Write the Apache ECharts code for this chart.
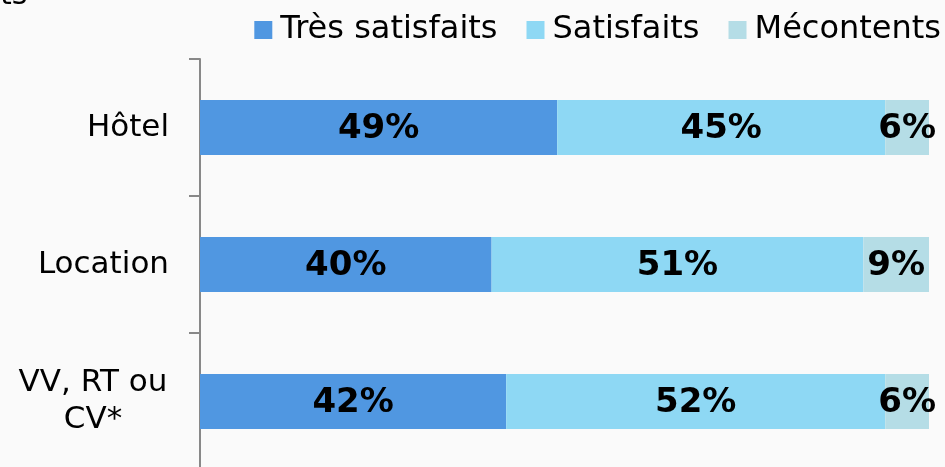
<!DOCTYPE html>
<html>
<head>
<meta charset="utf-8">
<script src="https://cdn.jsdelivr.net/npm/echarts@6/dist/echarts.min.js"></script>
<style>
  html, body { margin: 0; padding: 0; background: #fafafa; }
  #chart { width: 945px; height: 467px; }
</style>
</head>
<body>
<div id="chart"></div>
<script>
const categories = ['Hôtel', 'Location', 'VV, RT ou\nCV*']
const seriesNames = ['Très satisfaits', 'Satisfaits', 'Mécontents']
const tresSatisfaits = [49, 40, 42]
const satisfaits = [45, 51, 52]
const mecontents = [6, 9, 6]
const colors = ['#5097e1', '#8ed8f4', '#b5dde6']

const chart = echarts.init(document.getElementById('chart'))

const labelStyle = {
  show: true,
  position: 'inside',
  offset: [0, 2],
  formatter: '{c}%',
  color: '#000',
  fontFamily: 'DejaVu Sans',
  fontWeight: 'bold',
  fontSize: 34
}

const makeSeries = (name, data, color) => ({
  name,
  type: 'bar',
  stack: 'total',
  barWidth: 55,
  data,
  itemStyle: { color },
  label: labelStyle,
  emphasis: { disabled: true }
})

chart.setOption({
  backgroundColor: '#fafafa',
  animation: false,
  textStyle: { fontFamily: 'DejaVu Sans' },
  graphic: [
    {
      type: 'text',
      left: 0,
      top: -19,
      style: { text: 'ts', font: '30px "DejaVu Sans"', fill: '#000' }
    }
  ],
  legend: {
    data: seriesNames,
    right: -1,
    top: 9,
    icon: 'rect',
    itemWidth: 18,
    itemHeight: 18,
    itemGap: 29,
    textStyle: { fontSize: 32, color: '#000', padding: [0, 0, 0, 3] }
  },
  grid: { left: 200, right: 16, top: 59, height: 411, outerBoundsMode: 'none' },
  xAxis: { type: 'value', min: 0, max: 100, show: false },
  yAxis: {
    type: 'category',
    data: categories,
    inverse: true,
    axisLine: { lineStyle: { color: '#888', width: 2 } },
    axisTick: { show: true, length: 11, lineStyle: { color: '#888', width: 2 } },
    axisLabel: {
      margin: 31,
      fontSize: 31,
      color: '#000',
      lineHeight: 37,
      formatter: v => v.includes('\n') ? v.split('\n').map(s => '{c|' + s + '}').join('\n') : v,
      rich: { c: { width: 152, align: 'center', fontSize: 31, lineHeight: 37, color: '#000' } }
    }
  },
  series: [
    makeSeries(seriesNames[0], tresSatisfaits, colors[0]),
    makeSeries(seriesNames[1], satisfaits, colors[1]),
    makeSeries(seriesNames[2], mecontents, colors[2])
  ]
})

window.addEventListener('resize', () => chart.resize())
</script>
</body>
</html>
